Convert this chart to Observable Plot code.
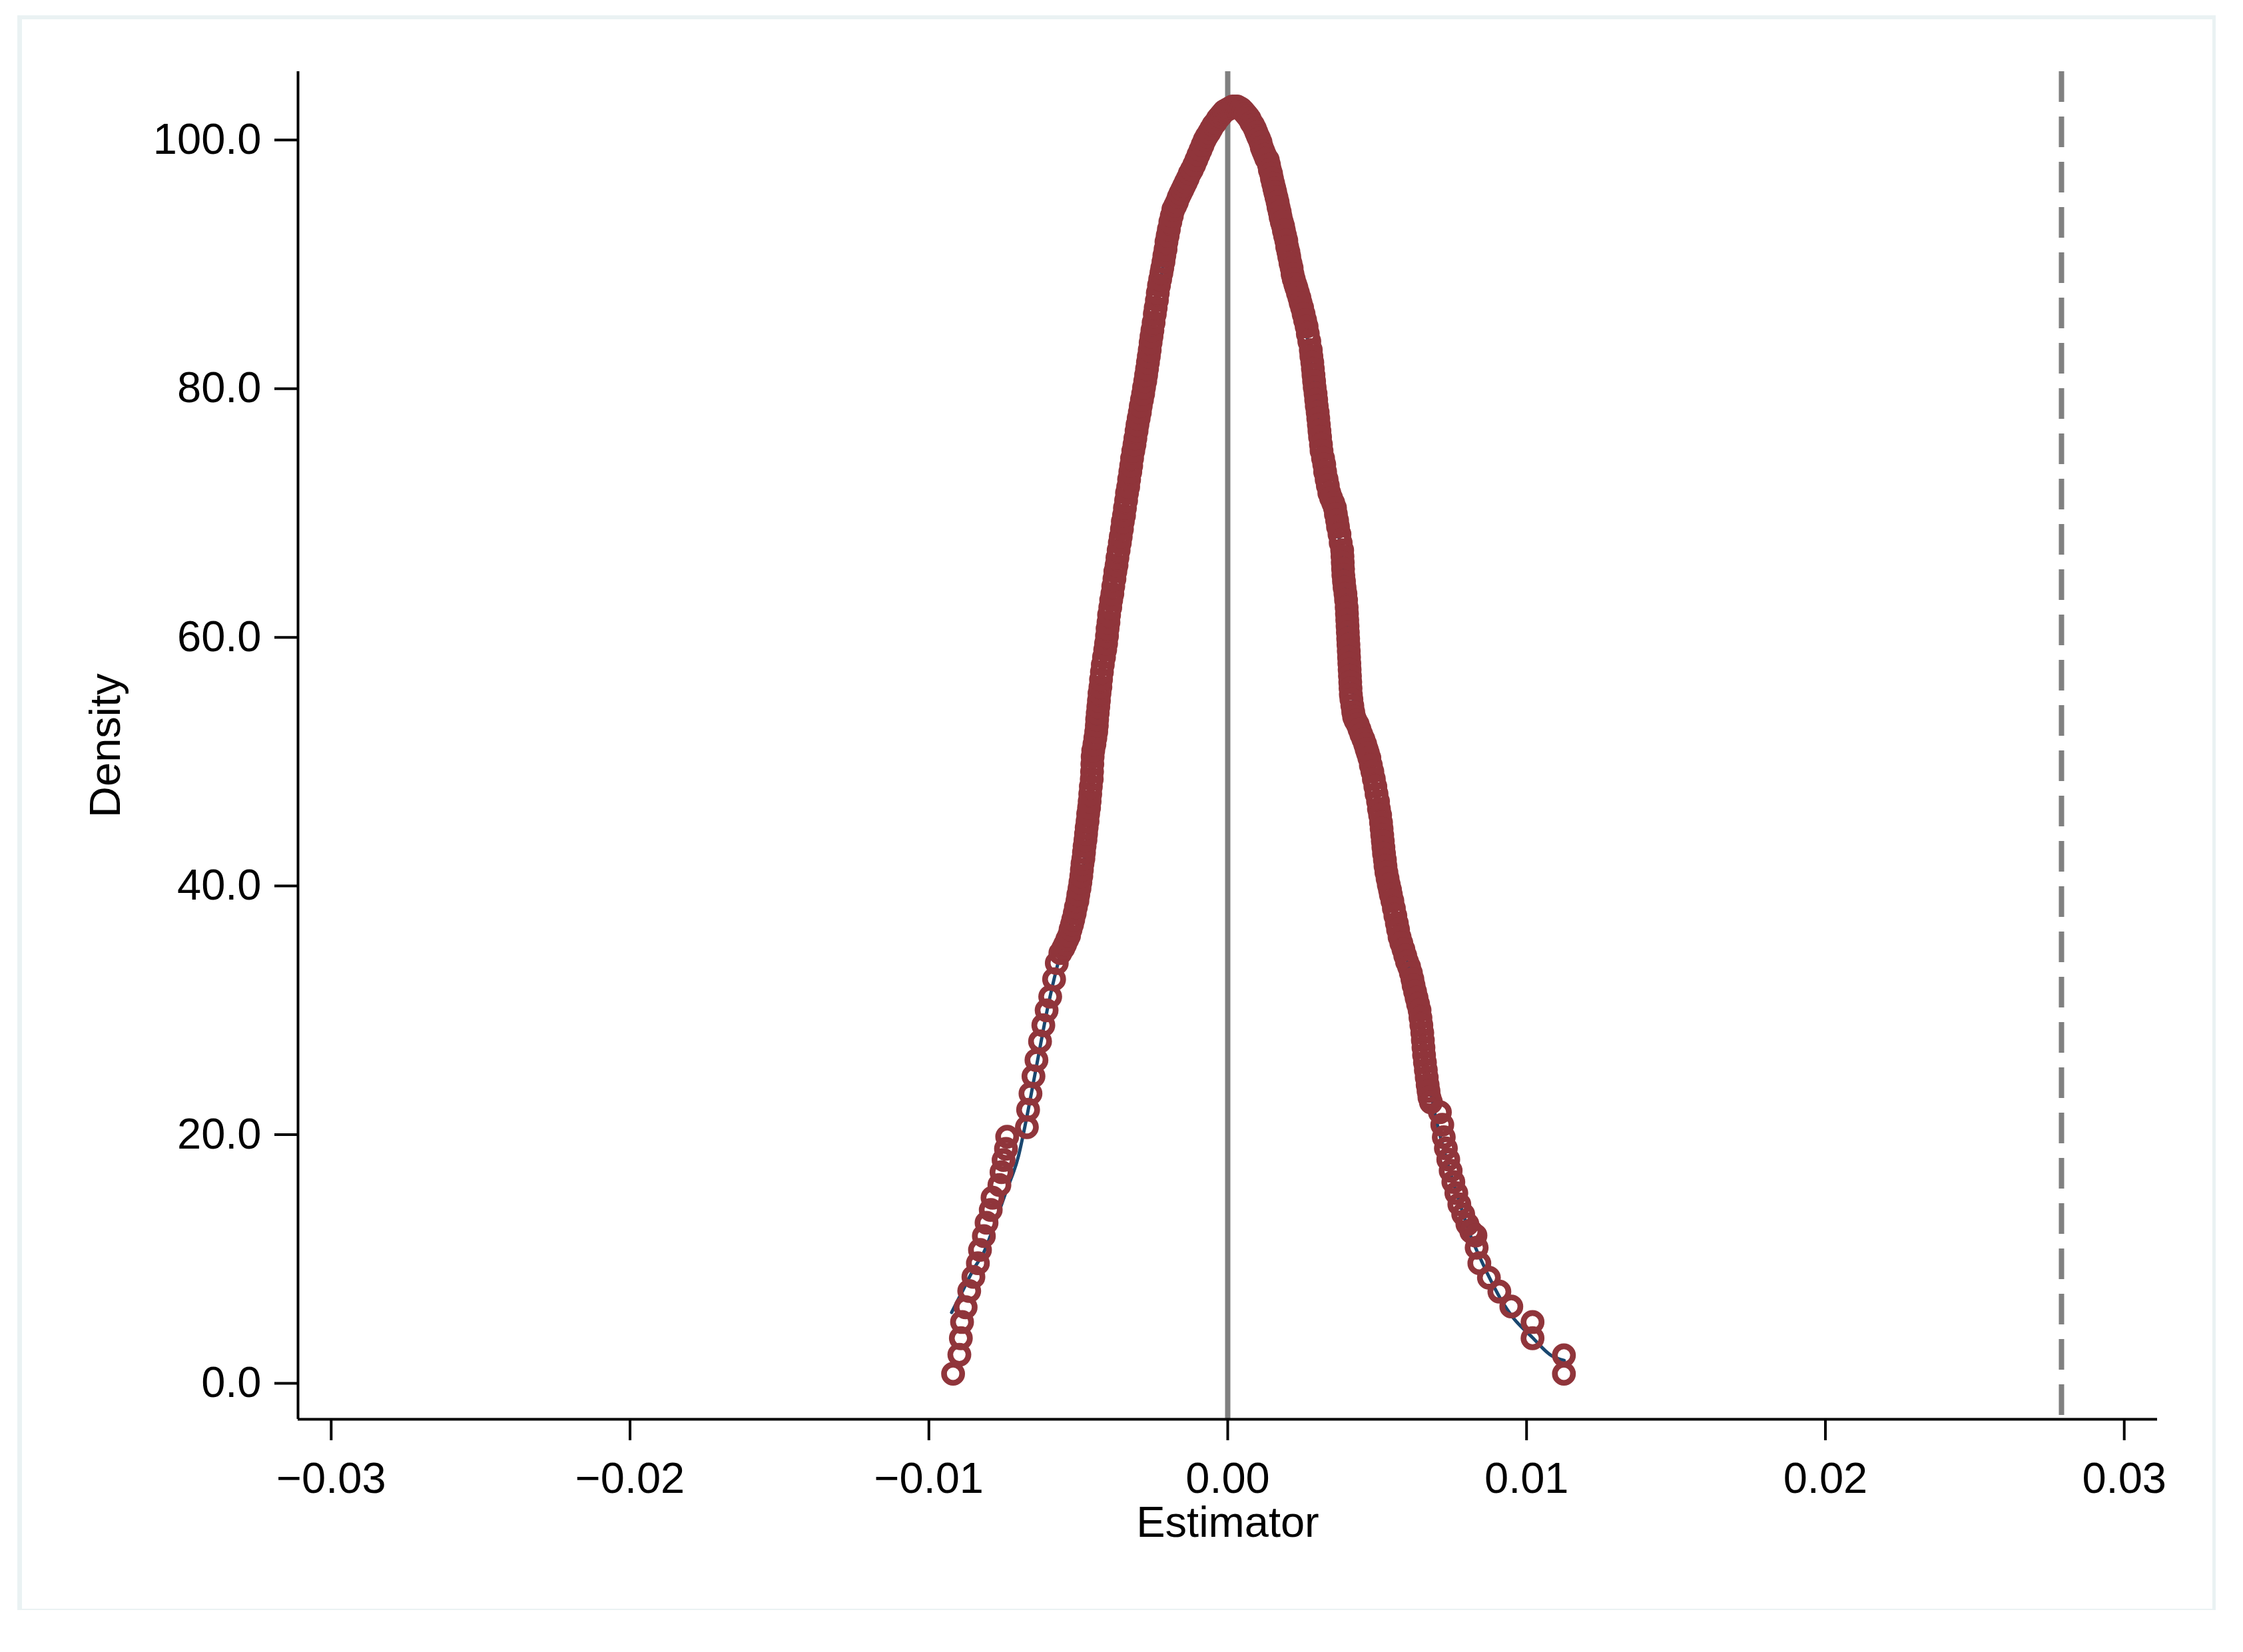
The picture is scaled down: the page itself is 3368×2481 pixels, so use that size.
<!DOCTYPE html>
<html><head><meta charset="utf-8">
<script src="https://cdn.jsdelivr.net/npm/d3@7"></script>
<script src="https://cdn.jsdelivr.net/npm/@observablehq/plot@0.6"></script>
<style>
html,body{margin:0;padding:0;background:#fff;}
#page{position:relative;width:3368px;height:2481px;overflow:hidden;background:#fff;}
#frame{position:absolute;left:26px;top:23px;width:3301px;height:2395px;box-sizing:border-box;border-style:solid;border-color:#eaf2f3;border-width:6px 5px 2px 7px;}
#chart{position:absolute;left:0;top:0;}
</style></head><body>
<div id="page"><div id="frame"></div><div id="chart"></div></div>
<script>
// Axis ticks
const xTicks = [-0.03, -0.02, -0.01, 0, 0.01, 0.02, 0.03];
const yTicks = [0, 20, 40, 60, 80, 100];
const xDomain = [-0.03111, 0.03111];
const yDomain = [-2.89, 105.5];
const referenceLine = 0;        // solid grey line
const observedEstimate = 0.0279; // dashed grey line

// Scatter of density at each estimate: [estimator (x 1e-3), density]
const leftTail = [[-9.19,0.77],[-8.98,2.30],[-8.93,3.63],[-8.89,4.93],[-8.77,6.12],[-8.65,7.43],[-8.51,8.56],[-8.36,9.66],[-8.29,10.73],[-8.16,11.84],[-8.07,12.91],[-7.93,13.95],[-7.87,14.93],[-7.64,15.95],[-7.57,16.98],[-7.50,17.96],[-7.42,18.86],[-7.38,19.84]];
const leftFlank = [[-6.72,20.6],[-6.68,22.0],[-6.60,23.3],[-6.50,24.7],[-6.40,26.0],[-6.28,27.5],[-6.17,28.8],[-6.06,30.0],[-5.94,31.1],[-5.81,32.5],[-5.72,33.8],[-5.60,34.6],[-5.50,35.0],[-5.44,35.3],[-5.37,35.7],[-5.31,36.0],[-5.26,36.5],[-5.21,36.9],[-5.17,37.3],[-5.12,37.8],[-5.08,38.3],[-5.03,38.8],[-5.00,39.3],[-4.96,39.8],[-4.93,40.3],[-4.90,40.8],[-4.88,41.3],[-4.86,41.8],[-4.83,42.2],[-4.81,42.7],[-4.79,43.2],[-4.76,43.7],[-4.74,44.2],[-4.72,44.7],[-4.69,45.2],[-4.67,45.8],[-4.64,46.3],[-4.62,46.8],[-4.60,47.4],[-4.58,48.0],[-4.55,48.6],[-4.54,49.2],[-4.53,49.8],[-4.52,50.4],[-4.50,50.9],[-4.46,51.4],[-4.43,51.9],[-4.40,52.4],[-4.38,52.9],[-4.37,53.4],[-4.35,53.9],[-4.33,54.4],[-4.31,54.9],[-4.29,55.5],[-4.26,56.0],[-4.24,56.6],[-4.21,57.2],[-4.18,57.8],[-4.14,58.4],[-4.10,59.0],[-4.07,59.5],[-4.04,60.1],[-4.02,60.7],[-3.99,61.2],[-3.97,61.8],[-3.93,62.4],[-3.90,63.0],[-3.86,63.5],[-3.83,64.1],[-3.79,64.7],[-3.76,65.3],[-3.72,65.8],[-3.69,66.4],[-3.65,67.0],[-3.61,67.6],[-3.58,68.1],[-3.54,68.7],[-3.51,69.3],[-3.47,69.8],[-3.44,70.4],[-3.40,71.0],[-3.37,71.6],[-3.33,72.1],[-3.30,72.7],[-3.26,73.3],[-3.23,73.8],[-3.20,74.4],[-3.16,75.0],[-3.12,75.5],[-3.09,76.0],[-3.05,76.6],[-3.02,77.1],[-2.98,77.6],[-2.94,78.1],[-2.91,78.6],[-2.87,79.1],[-2.83,79.6],[-2.80,80.1],[-2.76,80.6],[-2.73,81.1],[-2.70,81.6],[-2.67,82.1],[-2.64,82.6],[-2.61,83.1],[-2.58,83.7],[-2.55,84.2],[-2.52,84.7],[-2.48,85.3],[-2.44,86.0],[-2.41,86.5],[-2.37,87.1],[-2.34,87.7],[-2.30,88.3],[-2.26,88.8],[-2.22,89.3],[-2.19,89.7],[-2.15,90.2],[-2.12,90.7],[-2.08,91.2],[-2.05,91.8],[-2.01,92.3],[-1.97,92.8],[-1.92,93.4],[-1.87,93.9],[-1.82,94.4],[-1.76,94.7],[-1.70,95.0],[-1.64,95.4],[-1.58,95.7],[-1.52,96.0],[-1.46,96.3],[-1.40,96.6],[-1.34,96.9],[-1.27,97.3],[-1.20,97.6],[-1.12,98.0],[-1.05,98.4],[-0.98,98.8],[-0.91,99.2],[-0.84,99.6],[-0.77,100.0],[-0.70,100.3],[-0.62,100.6],[-0.55,100.9],[-0.48,101.2],[-0.41,101.4],[-0.33,101.7],[-0.26,101.9]];
const peak = [[-0.19,102.1],[-0.12,102.3],[-0.05,102.4],[0.03,102.5],[0.10,102.6],[0.17,102.7],[0.24,102.7],[0.31,102.7],[0.38,102.6],[0.45,102.5],[0.53,102.3],[0.60,102.1],[0.67,101.9],[0.73,101.7],[0.79,101.4],[0.85,101.2],[0.91,100.9],[0.96,100.6],[1.01,100.3],[1.05,100.1],[1.10,99.8],[1.14,99.4],[1.19,99.1],[1.24,98.8],[1.29,98.5]];
const rightFlank = [[1.34,98.4],[1.38,98.0],[1.41,97.6],[1.45,97.3],[1.48,96.9],[1.52,96.5],[1.56,96.1],[1.59,95.8],[1.63,95.4],[1.67,95.0],[1.70,94.6],[1.74,94.2],[1.77,93.8],[1.81,93.4],[1.85,93.1],[1.88,92.7],[1.92,92.3],[1.96,91.9],[1.99,91.4],[2.03,91.0],[2.06,90.6],[2.10,90.1],[2.14,89.7],[2.17,89.2],[2.21,88.8],[2.26,88.4],[2.30,88.1],[2.35,87.7],[2.40,87.3],[2.44,86.9],[2.49,86.5],[2.54,86.0],[2.59,85.5],[2.64,85.0],[2.68,84.4],[2.73,83.8],[2.78,83.1],[2.80,82.6],[2.83,82.1],[2.85,81.6],[2.87,81.1],[2.89,80.6],[2.91,80.1],[2.94,79.6],[2.96,79.1],[2.98,78.6],[3.01,78.1],[3.03,77.6],[3.05,77.1],[3.07,76.6],[3.09,76.1],[3.12,75.5],[3.14,75.0],[3.19,74.4],[3.23,73.9],[3.26,73.3],[3.31,72.7],[3.35,72.2],[3.40,71.6],[3.46,71.2],[3.53,70.8],[3.59,70.4],[3.62,69.9],[3.66,69.4],[3.69,68.9],[3.74,68.3],[3.78,67.6],[3.83,67.0],[3.84,66.5],[3.85,66.0],[3.86,65.5],[3.87,65.0],[3.89,64.5],[3.91,64.0],[3.94,63.5],[3.96,63.0],[3.98,62.4],[3.99,61.9],[4.00,61.4],[4.01,60.9],[4.02,60.4],[4.03,59.9],[4.04,59.4],[4.05,58.9],[4.06,58.4],[4.07,57.9],[4.08,57.4],[4.09,56.9],[4.10,56.4],[4.11,55.9],[4.12,55.4],[4.14,55.0],[4.17,54.5],[4.20,54.0],[4.23,53.6],[4.28,53.3],[4.35,53.0],[4.41,52.6],[4.47,52.2],[4.54,51.8],[4.60,51.4],[4.65,51.0],[4.69,50.7],[4.74,50.3],[4.79,49.7],[4.84,49.2],[4.89,48.6],[4.94,48.0],[4.98,47.4],[5.03,46.8],[5.06,46.2],[5.10,45.7],[5.13,45.1],[5.15,44.6],[5.17,44.1],[5.19,43.6],[5.21,43.1],[5.23,42.6],[5.26,42.1],[5.28,41.6],[5.31,41.1],[5.35,40.6],[5.39,40.1],[5.43,39.7],[5.46,39.3],[5.51,38.8],[5.56,38.2],[5.61,37.6],[5.66,37.0],[5.70,36.5],[5.75,35.9],[5.81,35.4],[5.88,34.9],[5.94,34.4],[6.00,33.9],[6.07,33.5],[6.13,33.0],[6.18,32.5],[6.22,32.0],[6.27,31.5],[6.32,31.0],[6.37,30.5],[6.42,30.0],[6.45,29.4],[6.48,28.8],[6.51,28.2],[6.53,27.6],[6.55,27.0],[6.57,26.4],[6.60,25.8],[6.63,25.2],[6.66,24.6],[6.69,24.0],[6.72,23.5],[6.75,23.0]];
const rightTail = [[6.80,22.6],[7.10,21.8],[7.18,20.8],[7.23,19.8],[7.30,18.9],[7.38,18.0],[7.46,17.1],[7.55,16.2],[7.65,15.3],[7.75,14.4],[7.88,13.6],[8.02,12.8],[8.15,12.2],[8.29,11.89],[8.33,10.91],[8.42,9.66],[8.74,8.50],[9.09,7.38],[9.49,6.18],[10.20,4.93],[10.20,3.63],[11.25,2.25],[11.25,0.77]];

// Smooth kernel density line: [estimator (x 1e-3), density]
const densityLine = [[-9.24,5.7],[-8.9,7.3],[-8.5,9.2],[-8.16,10.55],[-7.8,12.8],[-7.42,15.4],[-7.0,18.3],[-6.75,21.1],[-6.4,25.5],[-6.0,30.5],[-5.6,34.5],[-5.2,37.5],[-4.9,40.5],[-4.6,46],[-4.4,52],[-4.2,57],[-3.9,62],[-3.5,69],[-3.1,75.5],[-2.7,81.5],[-2.3,88],[-1.9,93],[-1.4,96.6],[-0.9,99.2],[-0.4,101.3],[0.1,102.4],[0.6,102.0],[1.0,100.4],[1.4,97.8],[1.8,94],[2.2,89],[2.6,85],[2.9,80],[3.15,75],[3.5,70.3],[3.9,65],[4.1,58],[4.3,53.3],[4.7,50.5],[5.0,46.5],[5.3,41.5],[5.6,38],[6.0,34],[6.4,30],[6.65,25.5],[6.95,21.5],[7.35,17.8],[7.75,14.6],[8.11,11.98],[8.5,9.8],[8.85,8.05],[9.2,6.5],[9.52,5.37],[10.19,3.70],[10.85,2.20],[11.26,1.84]];

const toRows = pairs => pairs.map(([x, y]) => ({x: x / 1000, y}));
const circles = toRows([...leftTail, ...leftFlank, ...peak, ...rightFlank, ...rightTail]);
const kline = toRows(densityLine);

const maroon = "#90353b", navy = "#1a476f", grey = "#808080";
const font = "'Liberation Sans', Arial, Helvetica, sans-serif";

const chart = Plot.plot({
  width: 3368,
  height: 2481,
  marginLeft: 447,
  marginRight: 129,
  marginTop: 107,
  marginBottom: 350,
  x: {domain: xDomain},
  y: {domain: yDomain},
  style: {fontFamily: font, fontSize: "65px", background: "transparent", overflow: "visible", color: "#000"},
  marks: [
    Plot.ruleX([referenceLine], {stroke: grey, strokeWidth: 8}),
    Plot.ruleX([observedEstimate], {stroke: grey, strokeWidth: 8, strokeDasharray: "46,22"}),
    Plot.line(kline, {x: "x", y: "y", stroke: navy, strokeWidth: 5, curve: "monotone-x"}),
    Plot.dot(circles, {x: "x", y: "y", r: 13.6, stroke: maroon, strokeWidth: 8.6, fill: "none"}),
    Plot.ruleY([yDomain[0]], {stroke: "#000", strokeWidth: 4}),
    Plot.ruleX([xDomain[0]], {stroke: "#000", strokeWidth: 4}),
    Plot.axisX({ticks: xTicks, tickFormat: d3.format(".2f"), tickSize: 32, tickPadding: 32, strokeWidth: 4, fontSize: 65, label: "Estimator", labelAnchor: "center", labelArrow: "none", labelOffset: 176}),
    Plot.axisY({ticks: yTicks, tickFormat: d3.format(".1f"), tickSize: 35, tickPadding: 20, strokeWidth: 4, fontSize: 65, label: "Density", labelAnchor: "center", labelArrow: "none", labelOffset: 314})
  ]
});
document.getElementById("chart").appendChild(chart);
</script></body></html>
